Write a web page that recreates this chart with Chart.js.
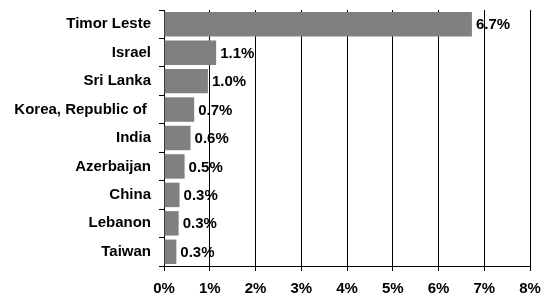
<!DOCTYPE html>
<html>
<head>
<meta charset="utf-8">
<script src="https://cdn.jsdelivr.net/npm/chart.js@4/dist/chart.umd.min.js"></script>
<style>
html,body{margin:0;padding:0;background:#fff;}
#wrap{width:548px;height:300px;position:relative;}
</style>
</head>
<body>
<div id="wrap"><canvas id="c" width="548" height="300"></canvas></div>
<script>
const categories = ["Timor Leste", "Israel", "Sri Lanka", "Korea, Republic of ", "India", "Azerbaijan", "China", "Lebanon", "Taiwan"];
const values = [6.73, 1.14, 0.96, 0.66, 0.58, 0.45, 0.34, 0.32, 0.27];
const valueLabels = ["6.7%", "1.1%", "1.0%", "0.7%", "0.6%", "0.5%", "0.3%", "0.3%", "0.3%"];
const xTicks = [0, 1, 2, 3, 4, 5, 6, 7, 8];

const FONT = "'Liberation Sans', Arial, sans-serif";

const valueLabelPlugin = {
  id: 'valueLabels',
  afterDatasetsDraw(chart) {
    const ctx = chart.ctx;
    const meta = chart.getDatasetMeta(0);
    ctx.save();
    ctx.font = "bold 15px " + FONT;
    ctx.fillStyle = '#000';
    ctx.textAlign = 'left';
    ctx.textBaseline = 'middle';
    meta.data.forEach((bar, i) => {
      ctx.fillText(valueLabels[i], bar.x + 4, bar.y + 1);
    });
    ctx.restore();
  }
};

new Chart(document.getElementById('c'), {
  type: 'bar',
  data: {
    labels: categories,
    datasets: [{
      data: values,
      backgroundColor: '#808080',
      borderWidth: 0,
      barPercentage: 0.86,
      categoryPercentage: 1.0
    }]
  },
  options: {
    indexAxis: 'y',
    responsive: false,
    animation: false,
    devicePixelRatio: 1,
    layout: { padding: { top: 10, right: 18, left: 0, bottom: 0 } },
    plugins: { legend: { display: false }, tooltip: { enabled: false } },
    scales: {
      x: {
        min: 0, max: 8,
        afterBuildTicks(scale) { scale.ticks = xTicks.map(v => ({ value: v })); },
        afterFit(scale) { scale.height = 34; scale.paddingLeft = 0; scale.paddingRight = 0; },
        ticks: {
          callback: v => v + '%',
          font: { family: FONT, size: 15, weight: 'bold' },
          color: '#000',
          padding: 9,
          maxRotation: 0
        },
        grid: { color: '#000', lineWidth: 1, tickLength: 5, drawOnChartArea: true },
        border: { color: '#000', width: 1 }
      },
      y: {
        afterFit(scale) { scale.width = 164; scale.paddingTop = 0; scale.paddingBottom = 0; },
        ticks: {
          font: { family: FONT, size: 15, weight: 'bold' },
          color: '#000',
          padding: 8,
          autoSkip: false
        },
        grid: { offset: true, drawOnChartArea: false, color: '#000', tickLength: 5 },
        border: { color: '#000', width: 1 }
      }
    }
  },
  plugins: [valueLabelPlugin]
});
</script>
</body>
</html>
